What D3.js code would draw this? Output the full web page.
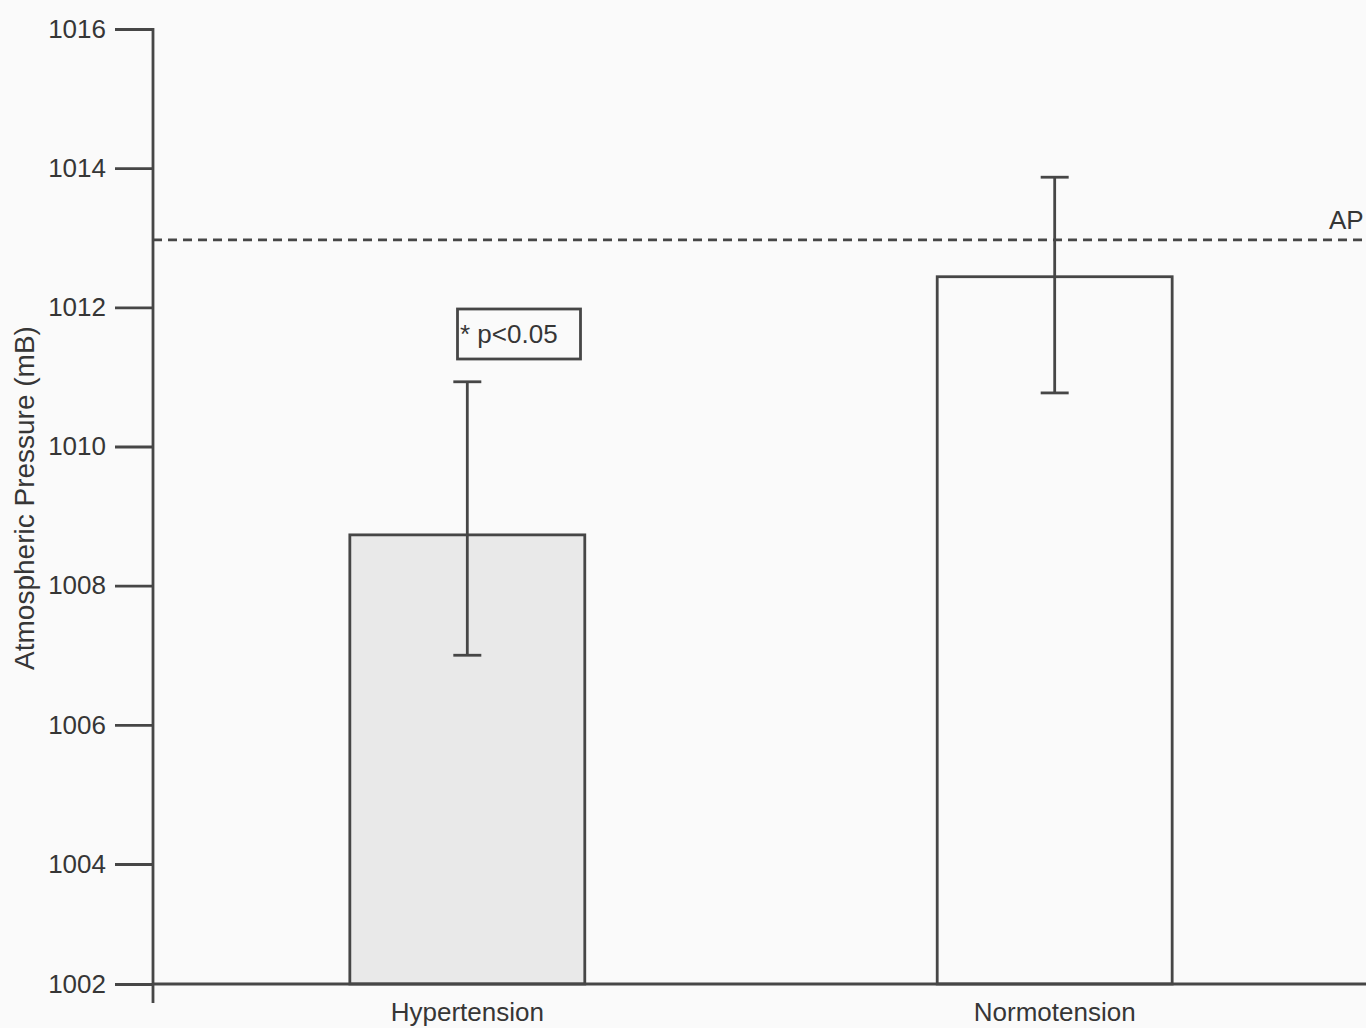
<!DOCTYPE html>
<html>
<head>
<meta charset="utf-8">
<script src="https://cdn.jsdelivr.net/npm/d3@7"></script>
<style>
	html, body { margin: 0; padding: 0; background: #fafafa; overflow: hidden; }
	text { font-family: "Liberation Sans", Arial, sans-serif; fill: #363636; }
</style>
</head>
<body>
<div id="chart"></div>
<script>
var width = 1366,
	height = 1028;

// data
var groups = ['Hypertension', 'Normotension'];
var means = [1008.73, 1012.44];
var upper = [1010.93, 1013.87];
var lower = [1007.00, 1010.77];
var fills = ['#e9e9e9', '#fafafa'];
var yTicks = [1002, 1004, 1006, 1008, 1010, 1012, 1014, 1016];
var apLevel = 1012.97;
var noteText = '* p<0.05';

var INK = '#464646';

var svg = d3.select('#chart').append('svg')
	.attr('width', width)
	.attr('height', height);

// the printed axis squeezes the last interval, so use a polylinear scale
var y = d3.scaleLinear()
	.domain([1002, 1004, 1016])
	.range([984, 864, 29]);

var x = d3.scaleBand()
	.domain(groups)
	.range([156, 1366])
	.paddingInner(0.6)
	.paddingOuter(0.33);

var axisX = 153;

// y axis
var yAxis = d3.axisLeft(y)
	.tickValues(yTicks)
	.tickFormat(d3.format('d'))
	.tickSize(38)
	.tickPadding(9);

var gy = svg.append('g')
	.attr('transform', 'translate(' + axisX + ',0)')
	.call(yAxis);
gy.select('.domain').remove();
gy.selectAll('.tick line')
	.attr('stroke', INK)
	.attr('stroke-width', 2.8);
gy.selectAll('.tick text')
	.style('font-size', '26px')
	.attr('fill', '#333');

svg.append('line')
	.attr('x1', axisX).attr('x2', axisX)
	.attr('y1', y(1016) - 1).attr('y2', y(1002) + 19)
	.attr('stroke', INK)
	.attr('stroke-width', 2.8);

svg.append('text')
	.attr('transform', 'translate(34,' + 498 + ') rotate(-90)')
	.attr('text-anchor', 'middle')
	.style('font-size', '28px')
	.text('Atmospheric Pressure (mB)');

// bars
svg.selectAll('rect.bar')
	.data(groups)
	.enter()
	.append('rect')
	.classed('bar', true)
	.attr('x', function(d) { return x(d); })
	.attr('width', x.bandwidth())
	.attr('y', function(d, i) { return y(means[i]); })
	.attr('height', function(d, i) { return y(1002) - y(means[i]); })
	.style('fill', function(d, i) { return fills[i]; })
	.style('stroke', INK)
	.style('stroke-width', 2.8);

// AP reference line
svg.append('line')
	.attr('x1', axisX).attr('x2', width)
	.attr('y1', y(apLevel)).attr('y2', y(apLevel))
	.attr('stroke', INK)
	.attr('stroke-width', 2.8)
	.attr('stroke-dasharray', '9,6');

svg.append('text')
	.attr('x', 1329)
	.attr('y', 229)
	.style('font-size', '26px')
	.text('AP');

// error bars
var err = svg.selectAll('g.err')
	.data(groups)
	.enter()
	.append('g')
	.classed('err', true)
	.attr('transform', function(d) { return 'translate(' + (x(d) + x.bandwidth() / 2) + ',0)'; });

err.append('line')
	.attr('x1', 0).attr('x2', 0)
	.attr('y1', function(d, i) { return y(upper[i]); })
	.attr('y2', function(d, i) { return y(lower[i]); });
err.append('line')
	.attr('x1', -14).attr('x2', 14)
	.attr('y1', function(d, i) { return y(upper[i]); })
	.attr('y2', function(d, i) { return y(upper[i]); });
err.append('line')
	.attr('x1', -14).attr('x2', 14)
	.attr('y1', function(d, i) { return y(lower[i]); })
	.attr('y2', function(d, i) { return y(lower[i]); });
err.selectAll('line')
	.attr('stroke', INK)
	.attr('stroke-width', 2.8);

// x axis
svg.append('line')
	.attr('x1', axisX).attr('x2', width)
	.attr('y1', y(1002)).attr('y2', y(1002))
	.attr('stroke', INK)
	.attr('stroke-width', 2.8);

svg.selectAll('text.cat')
	.data(groups)
	.enter()
	.append('text')
	.classed('cat', true)
	.attr('x', function(d) { return x(d) + x.bandwidth() / 2; })
	.attr('y', 1021)
	.attr('text-anchor', 'middle')
	.style('font-size', '26px')
	.text(function(d) { return d; });

// significance note
svg.append('rect')
	.attr('x', 457.5).attr('y', 309)
	.attr('width', 123).attr('height', 50)
	.style('fill', 'none')
	.style('stroke', INK)
	.style('stroke-width', 2.8);

svg.append('text')
	.attr('x', 460)
	.attr('y', 343)
	.style('font-size', '26px')
	.text(noteText);
</script>
</body>
</html>
